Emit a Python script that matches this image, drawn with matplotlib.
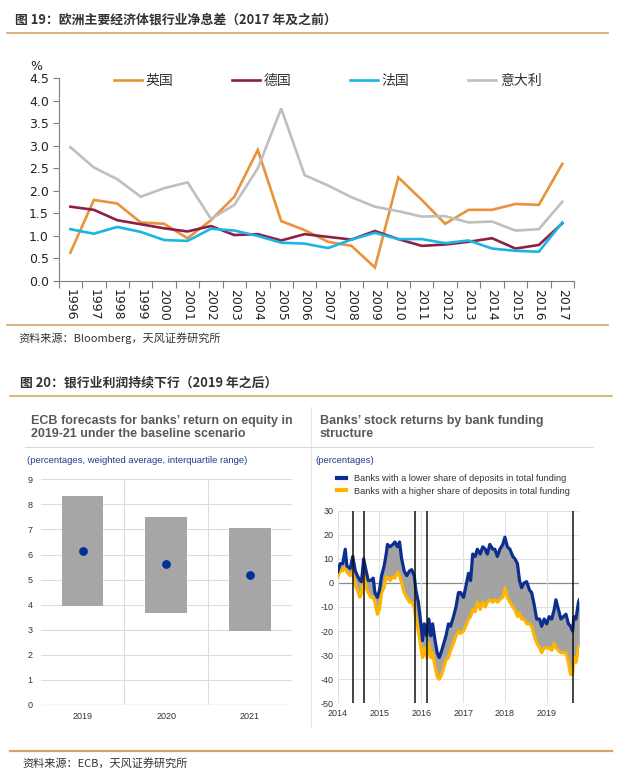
import matplotlib
matplotlib.use("Agg")
import matplotlib.pyplot as plt
from matplotlib.lines import Line2D
import numpy as np

W, H = 632, 782
fig = plt.figure(figsize=(W/100, H/100), dpi=100)
fig.patch.set_facecolor("white")

CJK = ["Noto Sans CJK SC", "DejaVu Sans"]
ARIAL = ["Liberation Sans", "DejaVu Sans"]

def pax(x0, y0, x1, y1):
    return fig.add_axes([x0/W, 1-y1/H, (x1-x0)/W, (y1-y0)/H])

def hline(x0, x1, y, color, lw):
    fig.add_artist(Line2D([x0/W, x1/W], [1-y/H, 1-y/H], color=color, lw=lw, transform=fig.transFigure))

def vline(x, y0, y1, color, lw):
    fig.add_artist(Line2D([x/W, x/W], [1-y0/H, 1-y1/H], color=color, lw=lw, transform=fig.transFigure))

TAN = "#D2A566"

# ---------------- Figure 19 data ----------------
years = [str(y) for y in range(1996, 2018)]
uk = [0.63, 1.80, 1.72, 1.30, 1.27, 0.95, 1.35, 1.87, 2.91, 1.33, 1.13, 0.87, 0.78, 0.30,
      2.30, 1.80, 1.27, 1.58, 1.58, 1.71, 1.69, 2.60]
de = [1.65, 1.58, 1.35, 1.26, 1.17, 1.10, 1.22, 1.02, 1.04, 0.90, 1.04, 0.98, 0.92, 1.11,
      0.93, 0.78, 0.81, 0.87, 0.95, 0.72, 0.80, 1.28]
fr = [1.15, 1.05, 1.20, 1.09, 0.91, 0.89, 1.16, 1.12, 1.00, 0.85, 0.83, 0.73, 0.92, 1.07,
      0.93, 0.93, 0.84, 0.90, 0.72, 0.67, 0.65, 1.30]
it = [2.97, 2.52, 2.26, 1.87, 2.06, 2.19, 1.38, 1.69, 2.50, 3.83, 2.35, 2.12, 1.86, 1.65,
      1.55, 1.43, 1.44, 1.30, 1.32, 1.12, 1.15, 1.76]
series_names = ["英国", "德国", "法国", "意大利"]
series_colors = ["#E8923A", "#8E1F45", "#1BB5E5", "#BFBFBF"]

# ---------------- Figure 20 left data ----------------
roe_years = ["2019", "2020", "2021"]
roe_low = [3.95, 3.67, 2.96]
roe_high = [8.34, 7.51, 7.05]
roe_avg = [6.13, 5.62, 5.20]

# ---------------- Figure 20 right data ----------------
t = [2014.00, 2014.06, 2014.12, 2014.18, 2014.22, 2014.30, 2014.36, 2014.42, 2014.47, 2014.53,
     2014.57, 2014.62, 2014.68, 2014.73, 2014.79, 2014.85, 2014.89, 2014.95, 2015.00, 2015.05,
     2015.11, 2015.16, 2015.19, 2015.25, 2015.32, 2015.37, 2015.43, 2015.48, 2015.53, 2015.59,
     2015.65, 2015.72, 2015.77, 2015.83, 2015.87, 2015.93, 2015.99, 2016.03, 2016.07, 2016.13,
     2016.18, 2016.23, 2016.27, 2016.33, 2016.38, 2016.43, 2016.49, 2016.54, 2016.59, 2016.65,
     2016.70, 2016.77, 2016.83, 2016.89, 2016.94, 2017.01, 2017.06, 2017.13, 2017.18, 2017.23,
     2017.29, 2017.34, 2017.41, 2017.47, 2017.53, 2017.58, 2017.64, 2017.71, 2017.76, 2017.82,
     2017.88, 2017.95, 2018.00, 2018.06, 2018.12, 2018.19, 2018.24, 2018.30, 2018.35, 2018.40,
     2018.46, 2018.52, 2018.59, 2018.64, 2018.70, 2018.76, 2018.83, 2018.88, 2018.94, 2019.00,
     2019.06, 2019.12, 2019.18, 2019.22, 2019.28, 2019.34, 2019.40, 2019.46, 2019.52, 2019.57,
     2019.62, 2019.65, 2019.70, 2019.76, 2019.78]
low_dep = [4.7, 8, 8, 14, 7, 6, 11, 5, 3, 1, 0.5, 10, 5, 1, 1, 2, -4, -6, -3, 3,
           7, 12, 16, 15, 16, 17, 15, 17, 10, 5, 3, 5, 5.5, 3, -3, -8, -17, -24, -17, -22,
           -15, -22, -17, -24, -29, -31, -28, -25, -22, -17, -18, -14, -10, -4, -4, -6, -2, 4, 1, 12,
           11, 14, 12, 15, 14, 12, 16, 14, 14, 11, 14, 16, 19, 15, 14, 11, 10, 8, 1, -2,
           0, 0.5, -3, -4, -9, -15, -15, -18, -15, -17, -14, -15, -11, -7, -11, -15, -14, -13, -17, -18,
           -20, -14, -15, -8, -7]
high_dep = [2.5, 5, 5, 7, 4.5, 3, 4.5, -1, -3, -6, -4, 5, -2, -4, -6, -6, -8, -13, -11, -4,
            -2, 2.5, 2.5, 1, 2.5, 2, 4.5, 3, 0, -4, -6, -8, -8, -10, -15, -20, -27, -31, -27, -31,
            -25, -31, -29, -35, -39, -40, -38, -35, -32, -31, -28, -25, -22, -20, -21, -20, -18, -15, -14, -11,
            -12, -8, -11, -8, -10, -8, -7, -8, -7, -8, -7, -6, -2, -6, -8, -10, -11, -14, -12.5, -15,
            -15, -17, -17, -18, -22, -25, -27, -29, -27, -27, -27, -28, -25, -27, -28, -29, -29, -29, -33, -38,
            -38, -31, -33, -27, -26]
event_dates = [2014.36, 2014.62, 2015.85, 2016.13, 2019.63]
legend_right = ["Banks with a lower share of deposits in total funding",
                "Banks with a higher share of deposits in total funding"]

# ================= Headers & separators =================
fig.text(15/W, 1-20/H, "图 19：欧洲主要经济体银行业净息差（2017 年及之前）", family=CJK,
         fontsize=9.3, color="#333333", va="center", ha="left", weight="bold")
hline(7, 608, 32.5, TAN, 1.2)
hline(7, 608, 325, TAN, 1.2)
fig.text(18/W, 1-338/H, "资料来源：Bloomberg，天风证券研究所", family=CJK,
         fontsize=8, color="#333333", va="center", ha="left")
fig.text(20/W, 1-383/H, "图 20：银行业利润持续下行（2019 年之后）", family=CJK,
         fontsize=9.3, color="#333333", va="center", ha="left", weight="bold")
hline(10, 612, 396, TAN, 1.2)
hline(10, 612, 751, TAN, 1.6)
fig.text(22/W, 1-763/H, "资料来源：ECB，天风证券研究所", family=CJK,
         fontsize=8, color="#333333", va="center", ha="left")

# ================= Figure 19 chart =================
ax = pax(58.7, 78.3, 574, 281)
x = np.arange(len(years))
for vals, name, col in zip([uk, de, fr, it], series_names, series_colors):
    ax.plot(x, vals, color=col, lw=1.9, label=name, solid_joinstyle="miter")
ax.set_xlim(-0.5, len(years)-0.5)
ax.set_ylim(0, 4.5)
ax.set_yticks(np.arange(0, 4.51, 0.5))
ax.set_yticklabels([f"{v:.1f}" for v in np.arange(0, 4.51, 0.5)], fontsize=9, color="#222222")
ax.set_xticks(x)
ax.set_xticklabels(years, rotation=-90, fontsize=9, color="#222222")
ax.tick_params(axis="x", length=0, pad=6)
ax.set_xticks(np.arange(-0.5, len(years), 1), minor=True)
ax.tick_params(axis="x", which="minor", length=5, color="#7f7f7f", width=0.8)
ax.tick_params(axis="y", length=4, color="#7f7f7f", width=0.8, pad=3)
for s in ["top", "right"]:
    ax.spines[s].set_visible(False)
for s in ["left", "bottom"]:
    ax.spines[s].set_color("#7f7f7f")
    ax.spines[s].set_linewidth(0.8)
fig.text(36/W, 1-66/H, "%", fontsize=9, color="#222222", ha="center", va="center")
leg = ax.legend(ncol=4, loc="center", bbox_to_anchor=(0.522, 0.988), frameon=False,
                prop={"family": CJK, "size": 10}, handlelength=2.0, handletextpad=0.3,
                columnspacing=4.2, borderaxespad=0)
for txt in leg.get_texts():
    txt.set_color("#333333")

# ================= Figure 20 panel decorations =================
vline(311, 407, 727, "#E6E6E6", 0.8)
hline(25, 593, 447, "#DADADA", 0.8)
fig.text(30.7/W, 1-420.7/H, "ECB forecasts for banks\u2019 return on equity in", family=ARIAL,
         weight="bold", fontsize=9.0, color="#595959", va="center", ha="left")
fig.text(30.7/W, 1-434.3/H, "2019-21 under the baseline scenario", family=ARIAL,
         weight="bold", fontsize=9.0, color="#595959", va="center", ha="left")
fig.text(26.7/W, 1-460.7/H, "(percentages, weighted average, interquartile range)", family=ARIAL,
         fontsize=6.8, color="#1F3D8C", va="center", ha="left")
fig.text(320/W, 1-420.7/H, "Banks\u2019 stock returns by bank funding", family=ARIAL,
         weight="bold", fontsize=9.0, color="#595959", va="center", ha="left")
fig.text(320/W, 1-434.3/H, "structure", family=ARIAL,
         weight="bold", fontsize=9.0, color="#595959", va="center", ha="left")
fig.text(315/W, 1-460.7/H, "(percentages)", family=ARIAL,
         fontsize=6.8, color="#1F3D8C", va="center", ha="left")

# ================= Figure 20 left chart =================
ax2 = pax(40.7, 479.3, 291.7, 705)
xi = np.arange(len(roe_years))
ax2.bar(xi, np.array(roe_high)-np.array(roe_low), bottom=roe_low, width=0.5,
        color="#A6A6A6", zorder=2)
ax2.plot(xi, roe_avg, "o", color="#003299", ms=5.3, zorder=3)
ax2.set_xlim(-0.5, 2.5)
ax2.set_ylim(0, 9)
ax2.set_yticks(range(0, 10))
ax2.set_yticklabels([str(v) for v in range(0, 10)], family=ARIAL, fontsize=6.5, color="#333333")
ax2.set_xticks(xi)
ax2.set_xticklabels(roe_years, family=ARIAL, fontsize=6.5, color="#333333")
ax2.tick_params(length=0)
ax2.tick_params(axis="y", pad=6)
ax2.tick_params(axis="x", pad=5)
for s in ax2.spines.values():
    s.set_visible(False)
for yv in range(1, 10):
    ax2.axhline(yv, color="#DCDCDC", lw=0.8, zorder=1)
ax2.axhline(0, color="#C8C8C8", lw=0.9, zorder=1)
for xv in [0.5, 1.5]:
    ax2.axvline(xv, color="#DCDCDC", lw=0.8, zorder=1)

# ================= Figure 20 right chart =================
ax3 = pax(337.7, 510.7, 579.3, 703.3)
ax3.fill_between(t, low_dep, high_dep, color="#A3A3A3", lw=0, zorder=2)
l1, = ax3.plot(t, low_dep, color="#0B2E8F", lw=2.3, zorder=4)
l2, = ax3.plot(t, high_dep, color="#FFB400", lw=2.3, zorder=3)
for d in event_dates:
    ax3.axvline(d, color="#111111", lw=1.1, zorder=5)
ax3.set_xlim(2014, 2019.78)
ax3.set_ylim(-50, 30)
ax3.set_yticks(range(-50, 31, 10))
ax3.set_yticklabels([str(v) for v in range(-50, 31, 10)], family=ARIAL, fontsize=6.5, color="#333333")
ax3.set_xticks(range(2014, 2020))
ax3.set_xticklabels([str(v) for v in range(2014, 2020)], family=ARIAL, fontsize=6.5, color="#333333")
ax3.tick_params(length=0)
ax3.tick_params(axis="y", pad=3)
ax3.tick_params(axis="x", pad=4)
for s in ax3.spines.values():
    s.set_visible(False)
for yv in range(-50, 31, 10):
    if yv != 0:
        ax3.axhline(yv, color="#E0E0E0", lw=0.8, zorder=1)
ax3.axhline(0, color="#8C8C8C", lw=0.9, zorder=1)
for xv in range(2014, 2020):
    ax3.axvline(xv, color="#E0E0E0", lw=0.8, zorder=1)
lg = ax3.legend([Line2D([], [], color="#0B2E8F", lw=3), Line2D([], [], color="#FFB400", lw=3)],
                legend_right, loc="upper left", bbox_to_anchor=(0.0, 1.0),
                bbox_transform=fig.transFigure, frameon=False,
                prop={"family": ARIAL, "size": 6.6}, handlelength=1.0, handletextpad=0.8,
                labelspacing=0.4, borderaxespad=0, borderpad=0)
lg.set_bbox_to_anchor((337/W, 1-474/H), transform=fig.transFigure)
for txt in lg.get_texts():
    txt.set_color("#333333")

fig.savefig("out.png", dpi=100, facecolor="white")
